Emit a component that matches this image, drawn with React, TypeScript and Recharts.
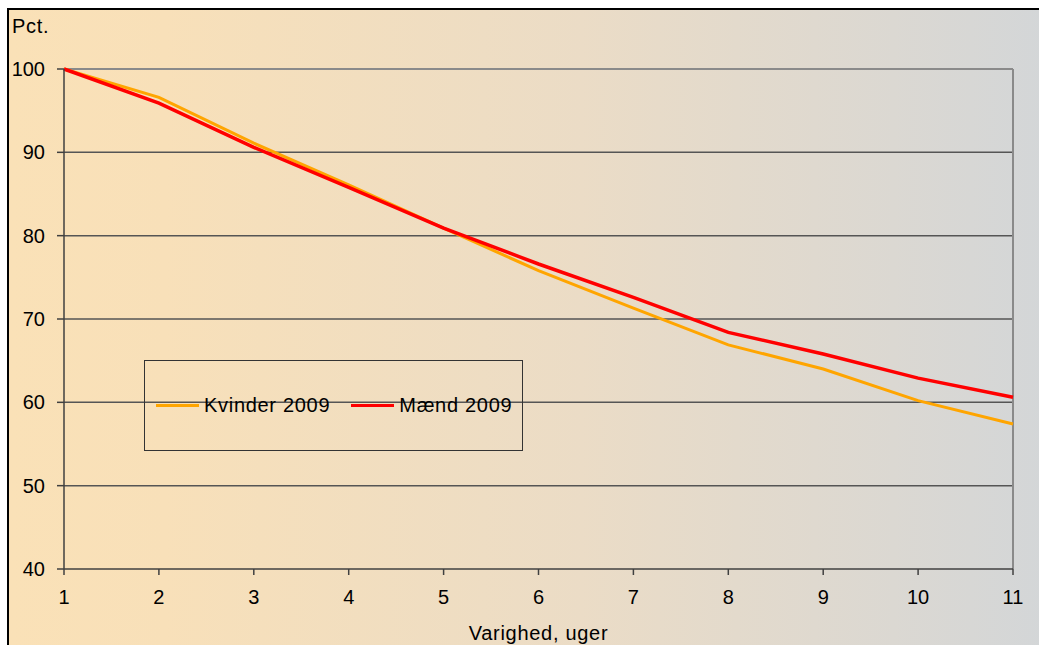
import React from 'react'
import { LineChart, Line, XAxis, YAxis, ReferenceLine, Legend, Label } from 'recharts'

// Varighed (uger) på x-aksen, andel i pct.
const weeks = [1, 2, 3, 4, 5, 6, 7, 8, 9, 10, 11]
const kvinder2009 = [100, 96.6, 91.1, 86.1, 80.9, 75.8, 71.3, 66.9, 64.0, 60.2, 57.4]
const maend2009 = [100, 95.9, 90.6, 85.8, 80.9, 76.6, 72.6, 68.4, 65.8, 62.9, 60.6]
const yTicks = [40, 50, 60, 70, 80, 90, 100]
const gridValues = [50, 60, 70, 80, 90]

const SERIES = [
  { key: 'kvinder', name: 'Kvinder 2009', color: '#FFA500', width: 3 },
  { key: 'maend', name: 'Mænd 2009', color: '#FF0000', width: 3.5 },
]

const data = weeks.map((w, i) => ({ week: w, kvinder: kvinder2009[i], maend: maend2009[i] }))

const FONT = '"Liberation Sans", Arial, sans-serif'
const TEXT = { fontFamily: FONT, fontSize: 20, letterSpacing: 0.7, color: '#000' }

function LegendBox() {
  return (
    <div
      style={{
        ...TEXT,
        width: 377,
        height: 89,
        border: '1.5px solid #333',
        display: 'flex',
        alignItems: 'center',
        boxSizing: 'content-box',
      }}
    >
      {SERIES.map((s, i) => (
        <span key={s.key} style={{ display: 'flex', alignItems: 'center', marginLeft: i === 0 ? 11 : 21 }}>
          <span style={{ display: 'inline-block', width: 43, height: 3, background: s.color, marginRight: 5 }} />
          <span>{s.name}</span>
        </span>
      ))}
    </div>
  )
}

export default function App() {
  return (
    <div style={{ position: 'absolute', left: 0, top: 0, width: 1039, height: 645, background: '#fff', overflow: 'hidden' }}>
      <div
        style={{
          position: 'absolute',
          left: 7,
          top: 8,
          width: 1040,
          height: 650,
          borderLeft: '2px solid #000',
          borderTop: '2px solid #000',
          background: 'linear-gradient(to right, #FAE1B7 0%, #F8E0B9 15%, #EBDCC6 55%, #D3D6D8 100%)',
        }}
      />
      <span style={{ ...TEXT, position: 'absolute', left: 12, top: 15 }}>Pct.</span>
      <div style={{ position: 'absolute', left: 0, top: 0 }}>
        <LineChart width={1039} height={645} data={data} margin={{ top: 69, right: 26, bottom: 0, left: 0 }}>
          {gridValues.map(v => (
            <ReferenceLine key={v} y={v} stroke="#555" strokeWidth={1.5} />
          ))}
          <ReferenceLine y={100} stroke="#8a8a8a" strokeWidth={2} />
          <ReferenceLine x={11} stroke="#8a8a8a" strokeWidth={2} />
          <XAxis
            dataKey="week"
            type="number"
            domain={[1, 11]}
            ticks={weeks}
            height={76}
            stroke="#404040"
            strokeWidth={1.5}
            tickSize={6}
            tickMargin={15}
            tick={{ fill: '#000', fontSize: 20, fontFamily: FONT }}
          >
            <Label
              value="Varighed, uger"
              position="insideBottom"
              offset={5}
              style={{ fill: '#000', fontSize: 20, fontFamily: FONT, letterSpacing: 0.7 }}
            />
          </XAxis>
          <YAxis
            type="number"
            domain={[40, 100]}
            ticks={yTicks}
            width={64}
            stroke="#404040"
            strokeWidth={1.5}
            tickSize={7}
            tickMargin={12}
            tick={{ fill: '#000', fontSize: 20, fontFamily: FONT }}
          />
          {SERIES.map(s => (
            <Line
              key={s.key}
              dataKey={s.key}
              name={s.name}
              type="linear"
              stroke={s.color}
              strokeWidth={s.width}
              dot={false}
              activeDot={false}
              isAnimationActive={false}
            />
          ))}
          <Legend
            content={<LegendBox />}
            layout="vertical"
            verticalAlign="middle"
            align="center"
            wrapperStyle={{ position: 'absolute', left: 144, top: 360, width: 380, height: 92 }}
          />
        </LineChart>
      </div>
    </div>
  )
}
